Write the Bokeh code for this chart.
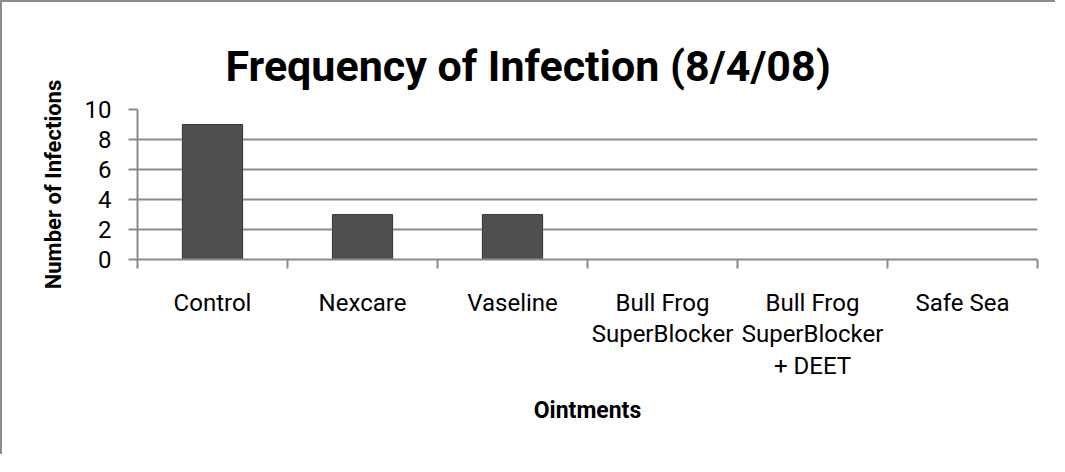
from bokeh.plotting import figure
from bokeh.models import (Range1d, FixedTicker, LinearAxis, ColumnDataSource)
from bokeh.embed import file_html
from bokeh.resources import INLINE

# ---- data ----
categories = ["Control", "Nexcare", "Vaseline", "Bull Frog\nSuperBlocker",
              "Bull Frog\nSuperBlocker\n+ DEET", "Safe Sea"]
infections = [9, 3, 3, 0, 0, 0]
y_ticks = [0, 2, 4, 6, 8, 10]
title_text = "Frequency of Infection (8/4/08)"
x_title = "Ointments"
y_title = "Number of Infections"

GRAY = "#8a8a8a"
FONT = "Roboto"

n = len(categories)
centers = [i + 0.5 for i in range(n)]          # slot centres on a 0..n axis
bounds = list(range(n + 1))                    # slot boundaries (tick marks)

source = ColumnDataSource(data=dict(x=centers, val=infections))

p = figure(x_range=Range1d(0, n), y_range=Range1d(0, 10),
           width=1055, height=454, output_backend="svg", toolbar_location=None,
           x_axis_location=None,
           min_border_left=135, min_border_right=20, min_border_top=107,
           min_border_bottom=197,
           styles={"border-left": "2px solid #8c8c8c", "border-top": "2px solid #8c8c8c"})

p.outline_line_color = None
p.background_fill_color = "white"
p.border_fill_color = "white"

# title
p.title.text = title_text
p.title.align = "left"
p.title.offset = 88
p.title.text_font = FONT
p.title.text_font_size = "43px"
p.title.text_font_style = "bold"
p.title.text_color = "black"
p.title.standoff = 38

# bars (soft halo + bar)
p.vbar(x="x", top="val", width=0.415, source=source,
       fill_color="#b0b0b0", fill_alpha=0.45, line_color=None)
p.vbar(x="x", top="val", width=0.4, source=source,
       fill_color="#4f4f4f", line_color="#3c3c3c", line_width=1)

# y axis
ya = p.yaxis[0]
ya.ticker = FixedTicker(ticks=y_ticks)
ya.major_tick_out = 9
ya.major_tick_in = 0
ya.minor_tick_line_color = None
ya.axis_line_color = GRAY
ya.axis_line_width = 2
ya.major_tick_line_color = GRAY
ya.major_tick_line_width = 2
ya.major_label_text_font = FONT
ya.major_label_text_font_size = "24px"
ya.major_label_text_color = "black"
ya.major_label_standoff = 17
ya.axis_label = y_title
ya.axis_label_text_font = FONT
ya.axis_label_text_font_size = "22px"
ya.axis_label_text_font_style = "bold"
ya.axis_label_text_color = "black"
ya.axis_label_standoff = 16

# grid
p.ygrid.ticker = FixedTicker(ticks=y_ticks)
p.ygrid.grid_line_color = GRAY
p.ygrid.grid_line_width = 2
p.xgrid.visible = False

# x axis: boundary ticks (no labels)
ax1 = LinearAxis(ticker=FixedTicker(ticks=bounds),
                 major_tick_out=9, major_tick_in=0,
                 minor_tick_line_color=None,
                 axis_line_color=GRAY, axis_line_width=2,
                 major_tick_line_color=GRAY, major_tick_line_width=2,
                 major_label_text_font_size="0px", major_label_text_color=None,
                 major_label_standoff=0)
p.add_layout(ax1, "below")

# x axis: category labels at slot centres
ax2 = LinearAxis(ticker=FixedTicker(ticks=centers),
                 major_label_overrides={c: name for c, name in zip(centers, categories)},
                 axis_line_color=None, major_tick_line_color=None,
                 minor_tick_line_color=None,
                 major_tick_out=0, major_tick_in=0,
                 major_label_standoff=20,
                 major_label_text_font=FONT,
                 major_label_text_font_size="24px",
                 major_label_text_line_height=1.13,
                 major_label_text_color="black",
                 axis_label=x_title,
                 axis_label_text_font=FONT,
                 axis_label_text_font_size="23px",
                 axis_label_text_font_style="bold",
                 axis_label_text_color="black",
                 axis_label_standoff=14)
p.add_layout(ax2, "below")

open("out.html", "w").write(file_html(p, INLINE))
